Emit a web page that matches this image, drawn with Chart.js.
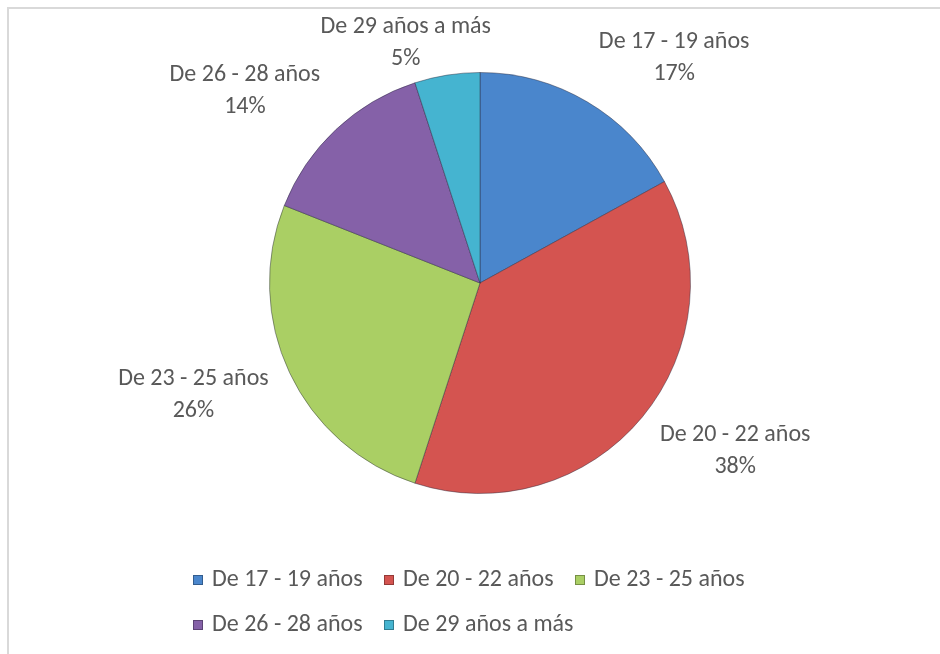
<!DOCTYPE html>
<html>
<head>
<meta charset="utf-8">
<script src="https://cdn.jsdelivr.net/npm/chart.js@4.4.1/dist/chart.umd.min.js"></script>
<style>
  html, body { margin: 0; padding: 0; background: #fff; }
  #marco {
    position: absolute; left: 7px; top: 7px; width: 1000px; height: 700px;
    border-top: 2px solid #d9d9d9; border-left: 2px solid #d9d9d9;
  }
  #lienzo { position: absolute; left: 0; top: 0; width: 940px; height: 654px; }
  canvas { display: block; }
</style>
</head>
<body>
<div id="marco"></div>
<div id="lienzo"><canvas id="grafico" width="940" height="654"></canvas></div>
<script>
// Datos del gráfico
const categorias = ["De 17 - 19 años", "De 20 - 22 años", "De 23 - 25 años", "De 26 - 28 años", "De 29 años a más"];
const porcentajes = [17, 38, 26, 14, 5];
const colores = ["#4a86cc", "#d45450", "#aacf64", "#8561a8", "#45b4d0"];

const fuente = "'Carlito', 'Open Sans', sans-serif";
const tamFuente = 24;
const colorTexto = "#595959";

// Etiquetas fuera del pastel (nombre + porcentaje)
const etiquetasFuera = {
  id: "etiquetasFuera",
  afterDatasetsDraw(chart) {
    const ctx = chart.ctx;
    const meta = chart.getDatasetMeta(0);
    ctx.save();
    ctx.font = `${tamFuente}px ${fuente}`;
    ctx.fillStyle = colorTexto;
    ctx.textAlign = "center";
    ctx.textBaseline = "middle";
    meta.data.forEach((arco, i) => {
      const p = arco.getProps(["x", "y", "startAngle", "endAngle", "outerRadius"], true);
      const medio = (p.startAngle + p.endAngle) / 2;
      const cx = Math.cos(medio), sy = Math.sin(medio);
      // cerca de la vertical la etiqueta queda más pegada al borde
      const dist = p.outerRadius + 2 + 21 * Math.min(1, 2 * Math.abs(cx));
      const px = p.x + dist * cx;
      const py = p.y + dist * sy;
      const linea1 = chart.data.labels[i];
      const linea2 = chart.data.datasets[0].data[i] + "%";
      const w = Math.max(ctx.measureText(linea1).width, ctx.measureText(linea2).width);
      const h = 48;
      const lim = (v, k) => Math.max(-1, Math.min(1, v * k));
      const x = px + (w / 2) * lim(cx, 3);
      const y = py + (h / 2) * lim(sy, 1.25);
      ctx.fillText(linea1, x, y - 16);
      ctx.fillText(linea2, x, y + 16);
    });
    ctx.restore();
  }
};

// Leyenda tipo Excel: 3 columnas, filas alineadas a la izquierda
const leyenda = {
  id: "leyendaExcel",
  afterDraw(chart) {
    const ctx = chart.ctx;
    const ds = chart.data.datasets[0];
    const x0 = 193, paso = 191, y0 = 580, altoFila = 45;
    ctx.save();
    ctx.font = `${tamFuente}px ${fuente}`;
    ctx.textBaseline = "middle";
    ctx.textAlign = "left";
    chart.data.labels.forEach((txt, i) => {
      const col = i % 3, fila = Math.floor(i / 3);
      const x = x0 + col * paso;
      const y = y0 + fila * altoFila;
      ctx.fillStyle = ds.backgroundColor[i];
      ctx.fillRect(x, y - 5, 10, 10);
      ctx.strokeStyle = "rgba(0,0,0,0.3)";
      ctx.lineWidth = 1;
      ctx.strokeRect(x + 0.5, y - 4.5, 9, 9);
      ctx.fillStyle = colorTexto;
      ctx.fillText(txt, x + 19, y);
    });
    ctx.restore();
  }
};

new Chart(document.getElementById("grafico"), {
  type: "pie",
  data: {
    labels: categorias,
    datasets: [{
      data: porcentajes,
      backgroundColor: colores,
      borderColor: "rgba(40,40,60,0.45)",
      borderWidth: 1
    }]
  },
  options: {
    responsive: false,
    animation: false,
    layout: { padding: { top: 72, bottom: 160, left: 20, right: 0 } },
    plugins: {
      legend: { display: false },
      title: { display: false },
      tooltip: { enabled: false }
    }
  },
  plugins: [etiquetasFuera, leyenda]
});
</script>
</body>
</html>
